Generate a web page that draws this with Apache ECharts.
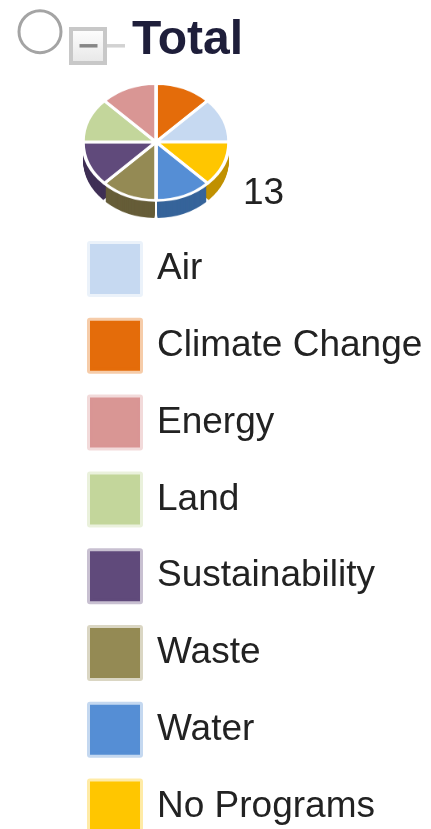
<!DOCTYPE html>
<html><head><meta charset="utf-8">
<script src="https://cdn.jsdelivr.net/npm/echarts@6/dist/echarts.min.js"></script>
<style>
html,body{margin:0;padding:0;background:#fff;width:431px;height:829px;overflow:hidden}
#main{position:absolute;left:0;top:0;width:431px;height:829px}
#pie{position:absolute;left:56px;top:62px;width:200px;height:230px;transform:scaleY(0.8);transform-origin:0 0}
</style></head><body>
<div id="main"></div><div id="pie"></div>
<script>
// ---- data ----
const titleText = 'Total';
const totalLabel = '13';
const sliceNames = ['Climate Change', 'Air', 'No Programs', 'Water', 'Waste', 'Sustainability', 'Land', 'Energy'];
const sliceValues = [1, 1, 1, 1, 1, 1, 1, 1];
const legendNames = ['Air', 'Climate Change', 'Energy', 'Land', 'Sustainability', 'Waste', 'Water', 'No Programs'];

// ---- styles ----
const topColors = {
  'Air': '#C6D9F1', 'Climate Change': '#E46C0A', 'Energy': '#D99694', 'Land': '#C3D69B',
  'Sustainability': '#604A7B', 'Waste': '#948A54', 'Water': '#558ED5', 'No Programs': '#FFC600'
};
const sideColors = {
  'Air': '#8EA3BF', 'Climate Change': '#A54E07', 'Energy': '#A86A68', 'Land': '#8FA06C',
  'Sustainability': '#3F2F55', 'Waste': '#665D38', 'Water': '#36649A', 'No Programs': '#C09000'
};
function halo(hex, a) {
  const n = parseInt(hex.slice(1), 16);
  return 'rgba(' + ((n >> 16) & 255) + ',' + ((n >> 8) & 255) + ',' + (n & 255) + ',' + a + ')';
}
const FONT = '"Liberation Sans", Arial, sans-serif';

// ---- main chart: legend, tree decorations, texts ----
const main = echarts.init(document.getElementById('main'), null, { renderer: 'canvas' });
main.setOption({
  animation: false,
  legend: {
    type: 'plain', orient: 'vertical', left: 87, top: 241, padding: 0,
    width: 344, height: 600,
    itemWidth: 50, itemHeight: 50, itemGap: 20.8, icon: 'rect',
    selectedMode: false,
    textStyle: { fontSize: 37, color: '#222', fontFamily: FONT, padding: [2, 0, 0, 12] },
    data: legendNames.map(n => ({
      name: n,
      itemStyle: { color: topColors[n], borderColor: halo(topColors[n], 0.35), borderWidth: 6 }
    }))
  },
  series: [{
    type: 'pie', radius: [0, 0], center: [156, 142], silent: true,
    label: { show: false }, labelLine: { show: false },
    data: sliceNames.map((n, i) => ({ name: n, value: sliceValues[i], itemStyle: { color: topColors[n] } }))
  }],
  graphic: [
    { type: 'circle', shape: { cx: 40, cy: 31.7, r: 21 }, style: { fill: '#fff', stroke: '#a4a4a4', lineWidth: 3 } },
    { type: 'rect', shape: { x: 71, y: 29, width: 34, height: 34 },
      style: { fill: new echarts.graphic.LinearGradient(0, 0, 0, 1, [{ offset: 0, color: '#ffffff' }, { offset: 1, color: '#e6e6e6' }]),
               stroke: '#c8c8c8', lineWidth: 4 } },
    { type: 'line', shape: { x1: 79.5, y1: 45.8, x2: 97.5, y2: 45.8 }, style: { stroke: '#868686', lineWidth: 3.5 } },
    { type: 'line', shape: { x1: 107, y1: 45.8, x2: 125, y2: 45.8 }, style: { stroke: '#d2d2d2', lineWidth: 3.5 } },
    { type: 'text', x: 132, y: 41,
      style: { text: titleText, font: 'bold 48px ' + FONT, fill: '#1e1e3a', verticalAlign: 'middle', align: 'left' } },
    { type: 'text', x: 243, y: 194,
      style: { text: totalLabel, font: '37px ' + FONT, fill: '#222', verticalAlign: 'middle', align: 'left' } }
  ]
});

// ---- pie chart (tilted with CSS scaleY) ----
const pie = echarts.init(document.getElementById('pie'), null, { renderer: 'canvas' });
const pieData = (colors) => sliceNames.map((n, i) => ({ name: n, value: sliceValues[i], itemStyle: { color: colors[n] } }));
const series = [];
const DEPTH = 22;
for (let d = DEPTH; d >= 1; d--) {
  series.push({
    type: 'pie', center: [100, 100 + d], radius: 73, startAngle: 90, clockwise: true,
    silent: true, padAngle: 2.5, label: { show: false }, labelLine: { show: false },
    itemStyle: { borderWidth: 0 }, emphasis: { disabled: true },
    data: pieData(sideColors)
  });
}
series.push({
  type: 'pie', center: [100, 100], radius: 73, startAngle: 90, clockwise: true,
  silent: true, label: { show: false }, labelLine: { show: false },
  itemStyle: { borderColor: '#ffffff', borderWidth: 3.5 }, emphasis: { disabled: true },
  data: pieData(topColors)
});
pie.setOption({ animation: false, series: series });
</script>
</body></html>
